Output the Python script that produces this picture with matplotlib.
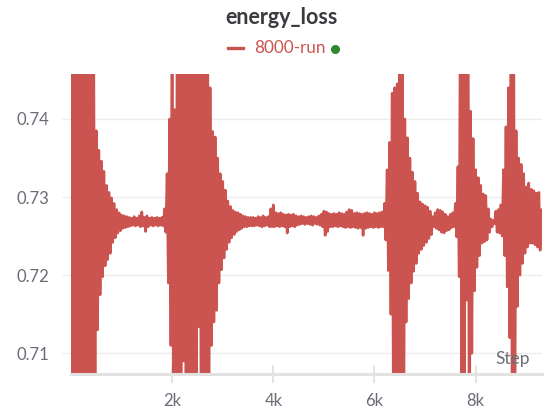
import numpy as np
import matplotlib
matplotlib.use("Agg")
import matplotlib.pyplot as plt
from matplotlib.lines import Line2D

plt.rcParams['font.family'] = ['Lato', 'DejaVu Sans']

# ---- data (envelope of the oscillating loss, read every 50 steps) ----
step_interval = 50
upper = [
    0.760, 0.760, 0.760, 0.760, 0.760, 0.760, 0.760, 0.760, 0.760, 0.748,
    0.7385, 0.7360, 0.7346, 0.7333, 0.7315, 0.7306, 0.7299, 0.7292, 0.7284, 0.7280,
    0.7277, 0.7276, 0.7275, 0.7274, 0.7273, 0.7275, 0.7273, 0.7276, 0.7281, 0.7274,
    0.7276, 0.7273, 0.7274, 0.7273, 0.7274, 0.7273, 0.7274, 0.7285, 0.7330, 0.7400,
    0.760, 0.7412, 0.760, 0.760, 0.760, 0.760, 0.760, 0.760, 0.760, 0.760,
    0.760, 0.760, 0.760, 0.760, 0.760, 0.7440, 0.7384, 0.7377, 0.7350, 0.7330,
    0.7320, 0.7309, 0.7295, 0.7288, 0.7283, 0.7281, 0.7280, 0.7278, 0.7276, 0.7275,
    0.7274, 0.7274, 0.7274, 0.7273, 0.7275, 0.7274, 0.7276, 0.7274, 0.7275, 0.7285,
    0.7290, 0.7280, 0.7279, 0.7280, 0.7278, 0.7277, 0.7278, 0.7277, 0.7278, 0.7276,
    0.7275, 0.7276, 0.7275, 0.7274, 0.7275, 0.7276, 0.7275, 0.7274, 0.7276, 0.7278,
    0.7282, 0.7281, 0.7279, 0.7278, 0.7279, 0.7278, 0.7280, 0.7279, 0.7278, 0.7281,
    0.7284, 0.7283, 0.7279, 0.7280, 0.7279, 0.7278, 0.7279, 0.7280, 0.7279, 0.7278,
    0.7280, 0.7279, 0.7280, 0.7281, 0.7292, 0.7335, 0.7370, 0.7433, 0.7440, 0.7445,
    0.760, 0.760, 0.7400, 0.7376, 0.7350, 0.7332, 0.7320, 0.7305, 0.7294, 0.7291,
    0.7289, 0.7287, 0.7282, 0.7275, 0.7280, 0.7284, 0.7283, 0.7281, 0.7278, 0.7275,
    0.7278, 0.7280, 0.7292, 0.7339, 0.760, 0.760, 0.760, 0.760, 0.7410, 0.7375,
    0.7335, 0.7325, 0.7315, 0.7304, 0.7302, 0.7285, 0.7272, 0.7270, 0.7282, 0.7284,
    0.7290, 0.7335, 0.7390, 0.7440, 0.760, 0.760, 0.7385, 0.7350, 0.7342, 0.7330,
    0.7313, 0.7318, 0.7310, 0.7308, 0.7305, 0.7306, 0.7284, 0.7272,
]
lower = [
    0.690, 0.690, 0.690, 0.690, 0.690, 0.690, 0.690, 0.690, 0.690, 0.700,
    0.7130, 0.7175, 0.7198, 0.7212, 0.7220, 0.7228, 0.7242, 0.7248, 0.7254, 0.7257,
    0.7260, 0.7261, 0.7262, 0.7263, 0.7264, 0.7263, 0.7264, 0.7262, 0.7263, 0.7256,
    0.7262, 0.7264, 0.7263, 0.7264, 0.7263, 0.7264, 0.7263, 0.7255, 0.7190, 0.7110,
    0.700, 0.690, 0.690, 0.690, 0.709, 0.690, 0.690, 0.690, 0.690, 0.690,
    0.7134, 0.690, 0.690, 0.690, 0.695, 0.7110, 0.7140, 0.7155, 0.7190, 0.7207,
    0.7222, 0.7233, 0.7242, 0.7248, 0.7252, 0.7256, 0.7258, 0.7260, 0.7262, 0.7262,
    0.7263, 0.7263, 0.7263, 0.7264, 0.7263, 0.7262, 0.7263, 0.7264, 0.7262, 0.7262,
    0.7262, 0.7263, 0.7262, 0.7263, 0.7262, 0.7254, 0.7262, 0.7263, 0.7262, 0.7264,
    0.7265, 0.7266, 0.7265, 0.7266, 0.7265, 0.7264, 0.7266, 0.7265, 0.7264, 0.7262,
    0.7251, 0.7256, 0.7262, 0.7262, 0.7263, 0.7262, 0.7263, 0.7262, 0.7261, 0.7262,
    0.7261, 0.7262, 0.7261, 0.7260, 0.7261, 0.7251, 0.7260, 0.7261, 0.7262, 0.7261,
    0.7262, 0.7261, 0.7262, 0.7262, 0.7245, 0.7206, 0.7150, 0.700, 0.690, 0.690,
    0.690, 0.690, 0.7140, 0.7170, 0.7190, 0.7205, 0.7215, 0.7228, 0.7233, 0.7238,
    0.7242, 0.7247, 0.7252, 0.7262, 0.7260, 0.7258, 0.7255, 0.7254, 0.7257, 0.7258,
    0.7261, 0.7262, 0.7249, 0.7198, 0.700, 0.690, 0.7168, 0.690, 0.7100, 0.7180,
    0.7210, 0.7225, 0.7241, 0.7243, 0.7245, 0.7255, 0.7262, 0.7266, 0.7255, 0.7254,
    0.7250, 0.7225, 0.7185, 0.7120, 0.690, 0.700, 0.7160, 0.7200, 0.7215, 0.7228,
    0.7236, 0.7241, 0.7241, 0.7239, 0.7236, 0.7232, 0.7254, 0.7262,
]
y_ticks = [0.71, 0.72, 0.73, 0.74]
y_tick_labels = ["0.71", "0.72", "0.73", "0.74"]
x_ticks = [2000, 4000, 6000, 8000]
x_tick_labels = ["2k", "4k", "6k", "8k"]
series_name = "8000-run"
title = "energy_loss"

# logged series alternates between the upper and lower envelope values
n = len(upper)
steps = np.empty(2 * n)
loss = np.empty(2 * n)
steps[0::2] = np.arange(n) * step_interval
steps[1::2] = np.arange(n) * step_interval + step_interval / 2
loss[0::2] = upper
loss[1::2] = lower

RED = '#cc5450'
GRID = '#ededed'
AXIS = '#e2e2e2'
LABEL = '#6b6d76'

W, H = 554, 420
fig = plt.figure(figsize=(W / 100, H / 100), dpi=100)
ax = fig.add_axes([71 / W, 46 / H, 471 / W, 300 / H])

ax.plot(steps, loss, color=RED, lw=1.9, solid_joinstyle='round')

ax.set_xlim(0, 9312)
ax.set_ylim(0.70735, 0.74576)
ax.set_yticks(y_ticks)
ax.set_yticklabels(y_tick_labels)
ax.set_xticks(x_ticks)
ax.set_xticklabels(x_tick_labels)

ax.grid(axis='y', color=GRID, lw=1.0)
ax.set_axisbelow(True)
for s in ['top', 'right', 'left']:
    ax.spines[s].set_visible(False)
ax.spines['bottom'].set_color(AXIS)
ax.spines['bottom'].set_linewidth(2.2)

ax.tick_params(axis='y', direction='out', length=6.5, width=0.9, color=GRID,
               pad=9, labelsize=12, labelcolor=LABEL)
ax.tick_params(axis='x', direction='inout', length=13, width=1.3, color=AXIS,
               pad=7, labelsize=12, labelcolor=LABEL)

fig.text(530 / W, 1 - 359 / H, 'Step', ha='right', va='center',
         fontsize=12.5, color=LABEL)

# title and legend
fig.text(282 / W, 1 - 17 / H, title, ha='center', va='center',
         fontsize=15.5, fontweight='bold', color='#3a3a3f')
fig.add_artist(Line2D([228 / W, 243 / W], [1 - 48 / H, 1 - 48 / H],
                      transform=fig.transFigure, color=RED, lw=2.4))
fig.text(254 / W, 1 - 48 / H, series_name, ha='left', va='center',
         fontsize=12.3, color=RED)
fig.add_artist(Line2D([335 / W], [1 - 49 / H], transform=fig.transFigure,
                      marker='o', markersize=5.5, color='#2f8a2f', lw=0))

fig.savefig('out.png', dpi=100, facecolor='white')
